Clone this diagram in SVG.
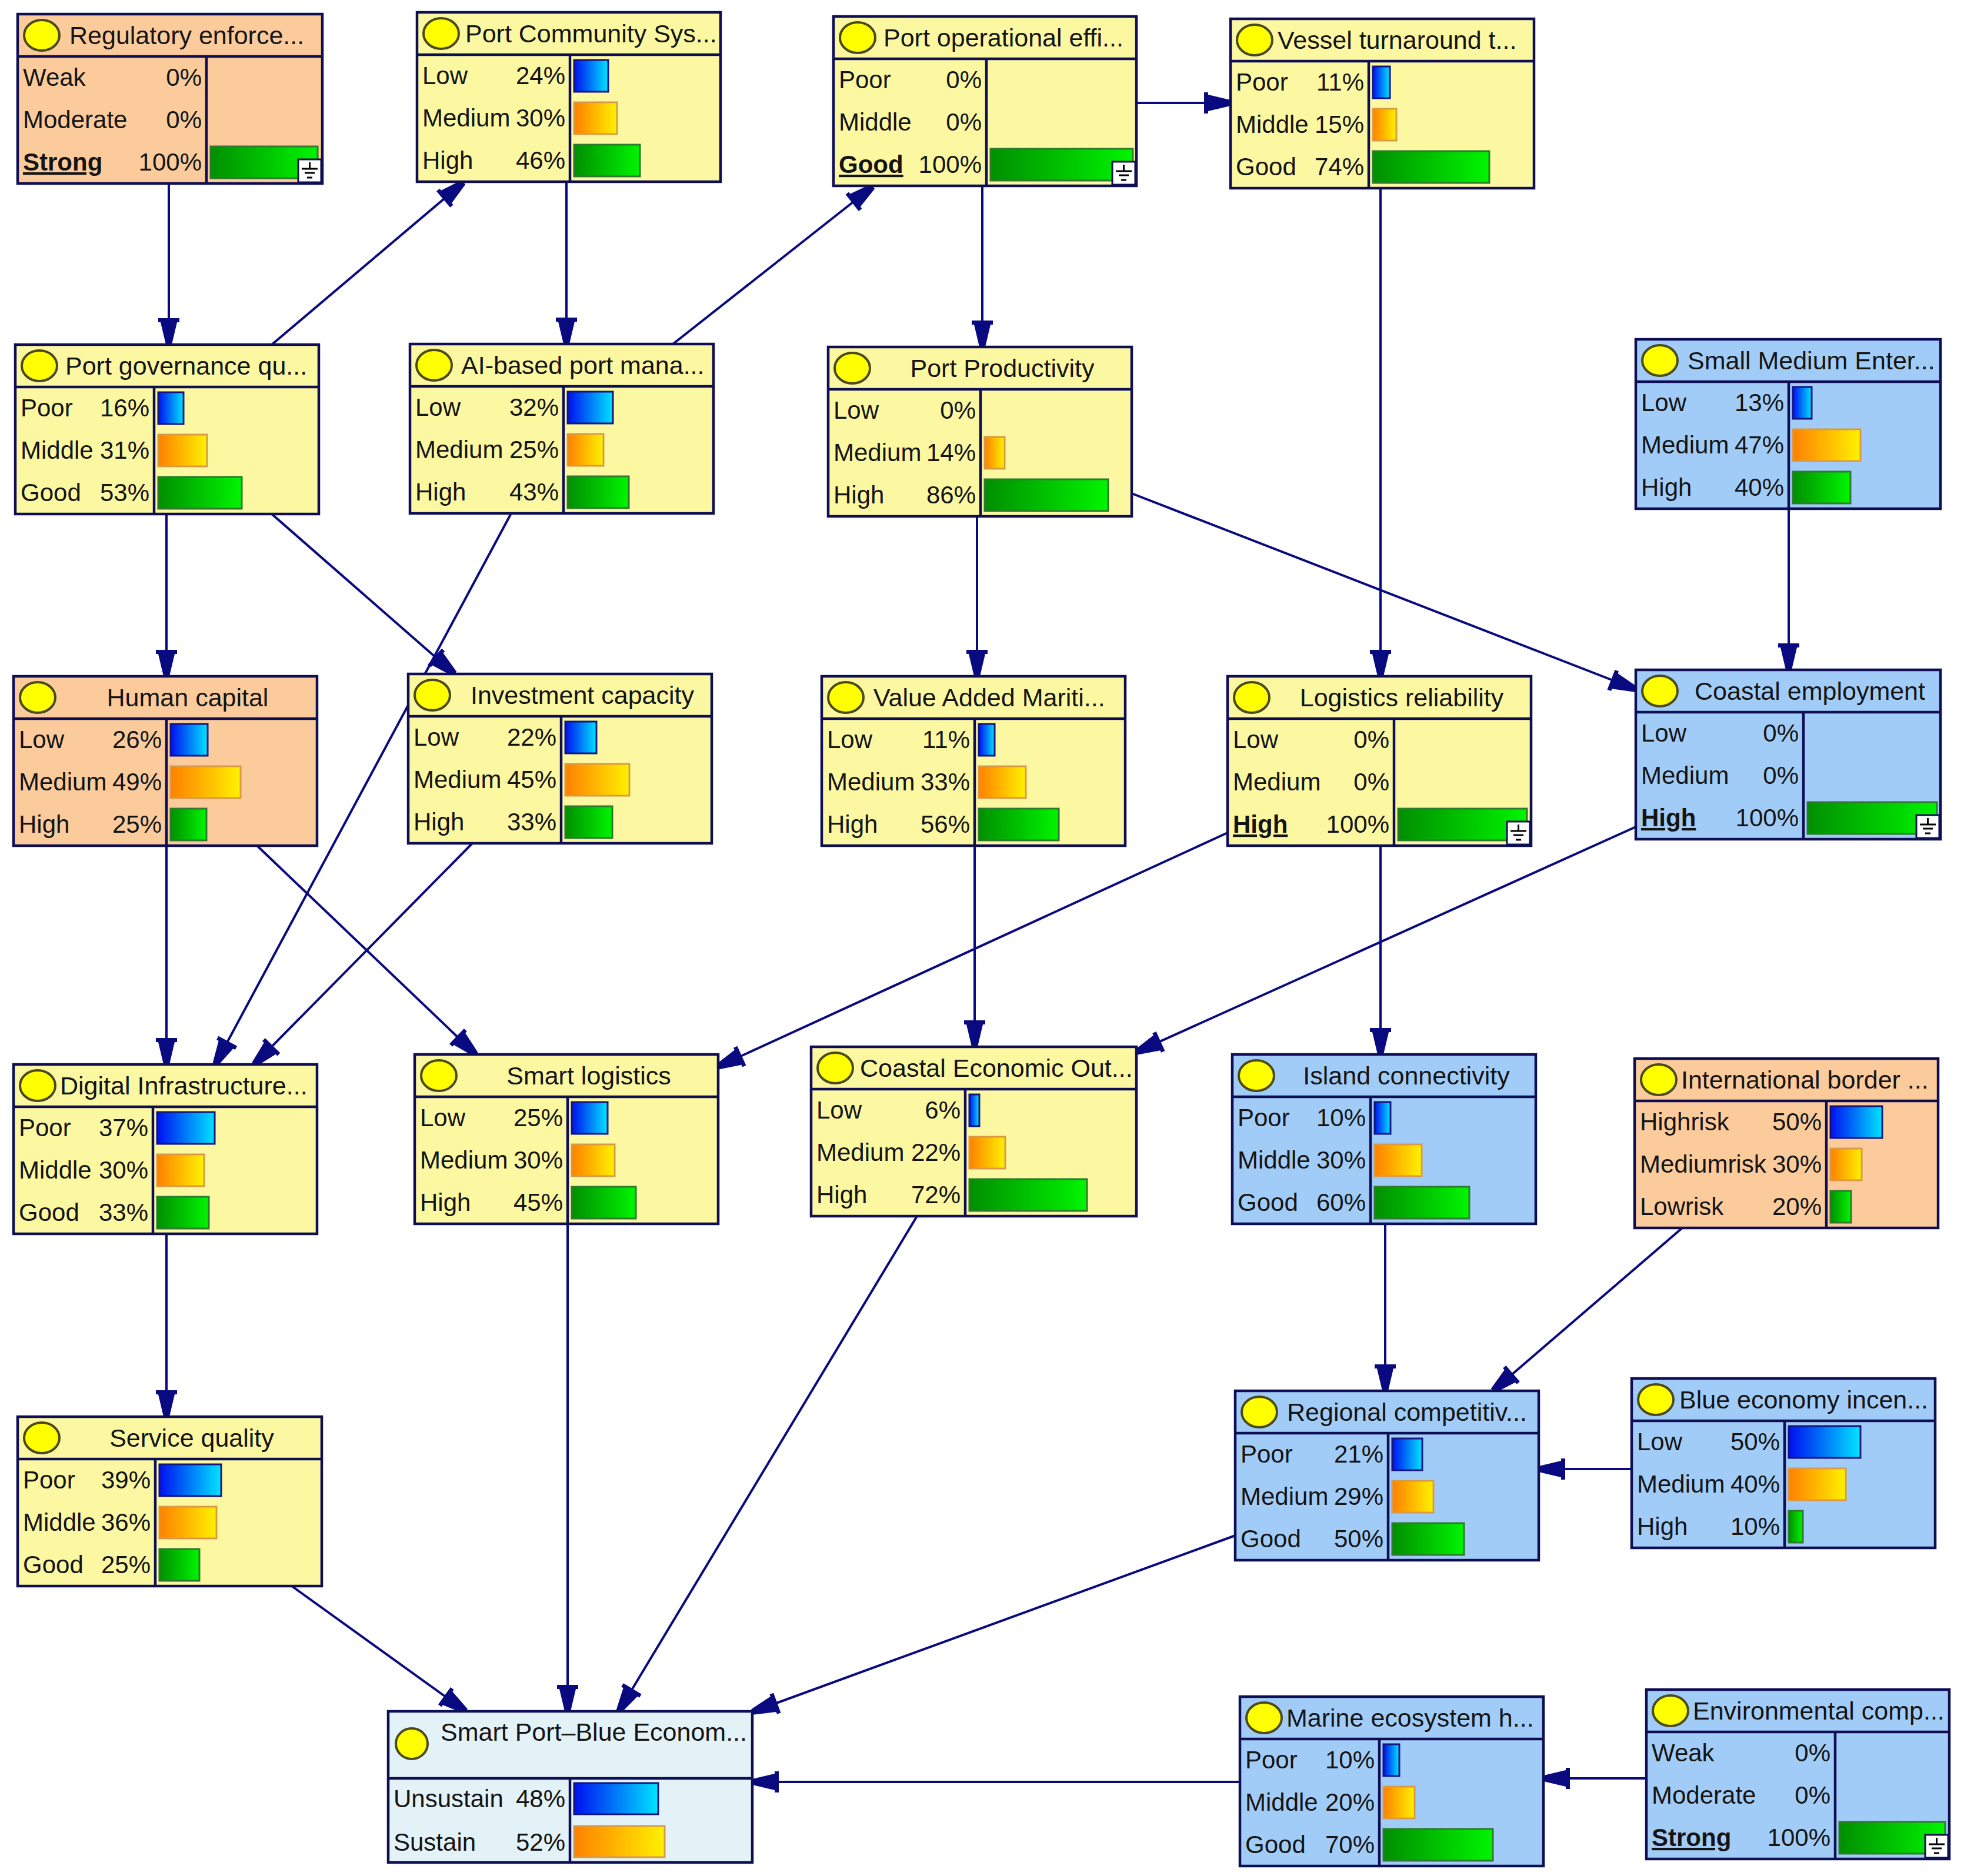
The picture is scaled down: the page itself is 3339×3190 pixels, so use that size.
<svg xmlns="http://www.w3.org/2000/svg" width="3339" height="3190" viewBox="0 0 3339 3190">
<defs>
<style>
.t{font-family:"Liberation Sans",Arial,sans-serif;font-size:42px;fill:#141414}
.h{font-size:43px}
.e{text-anchor:end}
.m{text-anchor:middle}
.u{font-weight:bold;text-decoration:underline}
.fr{stroke:#0E0E55;stroke-width:4.5}
.ln{stroke:#0E0E55;stroke-width:4.5}
.Y{fill:#FCF8A2}.B{fill:#A2CCF8}.O{fill:#FBCB9C}.C{fill:#E3F2F7}
.bb{fill:url(#gb);stroke:#14147E;stroke-width:3}
.bo{fill:url(#go);stroke:#DA9A45;stroke-width:3}
.bg{fill:url(#gg);stroke:#2E7A2E;stroke-width:3}
.cir{fill:#FFFF00;stroke:#4A4A1A;stroke-width:4}
.cn line{stroke:#0A0A80;stroke-width:4;marker-end:url(#ah)}
</style>
<linearGradient id="gb"><stop offset="0" stop-color="#0010F0"/><stop offset="1" stop-color="#00E4FF"/></linearGradient>
<linearGradient id="go"><stop offset="0" stop-color="#FF8000"/><stop offset="1" stop-color="#FFF200"/></linearGradient>
<linearGradient id="gg"><stop offset="0" stop-color="#008F00"/><stop offset="1" stop-color="#00F500"/></linearGradient>
<marker id="ah" markerUnits="userSpaceOnUse" markerWidth="50" markerHeight="42" viewBox="-48 -21 50 42" refX="0" refY="0" orient="auto"><path d="M0,-5 L-38,-14 L-38,-18 L-45,-18 L-45,18 L-38,18 L-38,14 L0,5 Z" fill="#0A0A80"/></marker>
<g id="evi"><rect x="0" y="0" width="39" height="39" fill="#ffffff" stroke="#0E0E55" stroke-width="3"/><g stroke="#000000" stroke-width="3"><line x1="19.5" y1="5" x2="19.5" y2="15"/><line x1="6" y1="16" x2="33" y2="16"/><line x1="11" y1="23" x2="28" y2="23"/><line x1="15" y1="31" x2="24" y2="31"/></g></g>
</defs>
<rect width="3339" height="3190" fill="#ffffff"/>
<g id="connectors" class="cn">
<line x1="287" y1="312" x2="287" y2="586"/>
<line x1="462" y1="586" x2="788" y2="310"/>
<line x1="963" y1="309" x2="963" y2="585"/>
<line x1="1144" y1="585" x2="1484" y2="317"/>
<line x1="1932" y1="175" x2="2092" y2="175"/>
<line x1="1670" y1="316" x2="1670" y2="590"/>
<line x1="283" y1="874" x2="283" y2="1150"/>
<line x1="462" y1="874" x2="773" y2="1146"/>
<line x1="869" y1="873" x2="366" y2="1810"/>
<line x1="1661" y1="878" x2="1661" y2="1150"/>
<line x1="1924" y1="839" x2="2781" y2="1172"/>
<line x1="2347" y1="320" x2="2347" y2="1150"/>
<line x1="3041" y1="865" x2="3041" y2="1139"/>
<line x1="283" y1="1438" x2="283" y2="1810"/>
<line x1="437" y1="1438" x2="809" y2="1793"/>
<line x1="803" y1="1434" x2="432" y2="1810"/>
<line x1="1657" y1="1438" x2="1657" y2="1780"/>
<line x1="2087" y1="1416" x2="1220" y2="1814"/>
<line x1="2347" y1="1438" x2="2347" y2="1793"/>
<line x1="2781" y1="1406" x2="1932" y2="1789"/>
<line x1="283" y1="2098" x2="283" y2="2409"/>
<line x1="965" y1="2081" x2="965" y2="2910"/>
<line x1="1559" y1="2068" x2="1052" y2="2910"/>
<line x1="2355" y1="2081" x2="2355" y2="2365"/>
<line x1="2860" y1="2088" x2="2538" y2="2365"/>
<line x1="2774" y1="2498" x2="2616" y2="2498"/>
<line x1="496" y1="2697" x2="792" y2="2910"/>
<line x1="2100" y1="2611" x2="1279" y2="2911"/>
<line x1="2108" y1="3030" x2="1279" y2="3030"/>
<line x1="2799" y1="3024" x2="2624" y2="3024"/>
</g>

<g id="reg" transform="translate(30,24)">
<rect class="O fr" width="518" height="288"/><line class="ln" x1="0" y1="72" x2="518" y2="72"/><line class="ln" x1="321" y1="72" x2="321" y2="288"/>
<ellipse class="cir" cx="41" cy="36" rx="30" ry="26"/><text class="t h" x="88" y="51">Regulatory enforce...</text>
<text class="t" x="9" y="122">Weak</text><text class="t e" x="313" y="122">0%</text>
<text class="t" x="9" y="194">Moderate</text><text class="t e" x="313" y="194">0%</text>
<text class="t u" x="9" y="266">Strong</text><text class="t e" x="313" y="266">100%</text>
<rect class="bg" x="328" y="225" width="182" height="54"/>
<use href="#evi" x="477" y="247"/>
</g>

<g id="pcs" transform="translate(709,21)">
<rect class="Y fr" width="516" height="288"/><line class="ln" x1="0" y1="72" x2="516" y2="72"/><line class="ln" x1="260" y1="72" x2="260" y2="288"/>
<ellipse class="cir" cx="41" cy="36" rx="30" ry="26"/><text class="t h" x="82" y="51">Port Community Sys...</text>
<text class="t" x="9" y="122">Low</text><text class="t e" x="252" y="122">24%</text>
<text class="t" x="9" y="194">Medium</text><text class="t e" x="252" y="194">30%</text>
<text class="t" x="9" y="266">High</text><text class="t e" x="252" y="266">46%</text>
<rect class="bb" x="267" y="81" width="58" height="54"/>
<rect class="bo" x="267" y="153" width="73" height="54"/>
<rect class="bg" x="267" y="225" width="112" height="54"/>
</g>

<g id="poe" transform="translate(1417,28)">
<rect class="Y fr" width="515" height="288"/><line class="ln" x1="0" y1="72" x2="515" y2="72"/><line class="ln" x1="260" y1="72" x2="260" y2="288"/>
<ellipse class="cir" cx="41" cy="36" rx="30" ry="26"/><text class="t h" x="85" y="51">Port operational effi...</text>
<text class="t" x="9" y="122">Poor</text><text class="t e" x="252" y="122">0%</text>
<text class="t" x="9" y="194">Middle</text><text class="t e" x="252" y="194">0%</text>
<text class="t u" x="9" y="266">Good</text><text class="t e" x="252" y="266">100%</text>
<rect class="bg" x="267" y="225" width="242" height="54"/>
<use href="#evi" x="474" y="247"/>
</g>

<g id="vtt" transform="translate(2092,32)">
<rect class="Y fr" width="516" height="288"/><line class="ln" x1="0" y1="72" x2="516" y2="72"/><line class="ln" x1="235" y1="72" x2="235" y2="288"/>
<ellipse class="cir" cx="41" cy="36" rx="30" ry="26"/><text class="t h" x="80" y="51">Vessel turnaround t...</text>
<text class="t" x="9" y="122">Poor</text><text class="t e" x="227" y="122">11%</text>
<text class="t" x="9" y="194">Middle</text><text class="t e" x="227" y="194">15%</text>
<text class="t" x="9" y="266">Good</text><text class="t e" x="227" y="266">74%</text>
<rect class="bb" x="242" y="81" width="29" height="54"/>
<rect class="bo" x="242" y="153" width="40" height="54"/>
<rect class="bg" x="242" y="225" width="198" height="54"/>
</g>

<g id="pgq" transform="translate(26,586)">
<rect class="Y fr" width="516" height="288"/><line class="ln" x1="0" y1="72" x2="516" y2="72"/><line class="ln" x1="236" y1="72" x2="236" y2="288"/>
<ellipse class="cir" cx="41" cy="36" rx="30" ry="26"/><text class="t h" x="85" y="51">Port governance qu...</text>
<text class="t" x="9" y="122">Poor</text><text class="t e" x="228" y="122">16%</text>
<text class="t" x="9" y="194">Middle</text><text class="t e" x="228" y="194">31%</text>
<text class="t" x="9" y="266">Good</text><text class="t e" x="228" y="266">53%</text>
<rect class="bb" x="243" y="81" width="43" height="54"/>
<rect class="bo" x="243" y="153" width="83" height="54"/>
<rect class="bg" x="243" y="225" width="142" height="54"/>
</g>

<g id="ai" transform="translate(697,585)">
<rect class="Y fr" width="516" height="288"/><line class="ln" x1="0" y1="72" x2="516" y2="72"/><line class="ln" x1="261" y1="72" x2="261" y2="288"/>
<ellipse class="cir" cx="41" cy="36" rx="30" ry="26"/><text class="t h" x="87" y="51">AI-based port mana...</text>
<text class="t" x="9" y="122">Low</text><text class="t e" x="253" y="122">32%</text>
<text class="t" x="9" y="194">Medium</text><text class="t e" x="253" y="194">25%</text>
<text class="t" x="9" y="266">High</text><text class="t e" x="253" y="266">43%</text>
<rect class="bb" x="268" y="81" width="77" height="54"/>
<rect class="bo" x="268" y="153" width="61" height="54"/>
<rect class="bg" x="268" y="225" width="104" height="54"/>
</g>

<g id="pp" transform="translate(1408,590)">
<rect class="Y fr" width="516" height="288"/><line class="ln" x1="0" y1="72" x2="516" y2="72"/><line class="ln" x1="259" y1="72" x2="259" y2="288"/>
<ellipse class="cir" cx="41" cy="36" rx="30" ry="26"/><text class="t h m" x="296" y="51">Port Productivity</text>
<text class="t" x="9" y="122">Low</text><text class="t e" x="251" y="122">0%</text>
<text class="t" x="9" y="194">Medium</text><text class="t e" x="251" y="194">14%</text>
<text class="t" x="9" y="266">High</text><text class="t e" x="251" y="266">86%</text>
<rect class="bo" x="266" y="153" width="34" height="54"/>
<rect class="bg" x="266" y="225" width="210" height="54"/>
</g>

<g id="sme" transform="translate(2781,577)">
<rect class="B fr" width="518" height="288"/><line class="ln" x1="0" y1="72" x2="518" y2="72"/><line class="ln" x1="260" y1="72" x2="260" y2="288"/>
<ellipse class="cir" cx="41" cy="36" rx="30" ry="26"/><text class="t h" x="88" y="51">Small Medium Enter...</text>
<text class="t" x="9" y="122">Low</text><text class="t e" x="252" y="122">13%</text>
<text class="t" x="9" y="194">Medium</text><text class="t e" x="252" y="194">47%</text>
<text class="t" x="9" y="266">High</text><text class="t e" x="252" y="266">40%</text>
<rect class="bb" x="267" y="81" width="32" height="54"/>
<rect class="bo" x="267" y="153" width="115" height="54"/>
<rect class="bg" x="267" y="225" width="98" height="54"/>
</g>

<g id="hc" transform="translate(23,1150)">
<rect class="O fr" width="516" height="288"/><line class="ln" x1="0" y1="72" x2="516" y2="72"/><line class="ln" x1="260" y1="72" x2="260" y2="288"/>
<ellipse class="cir" cx="41" cy="36" rx="30" ry="26"/><text class="t h m" x="296" y="51">Human capital</text>
<text class="t" x="9" y="122">Low</text><text class="t e" x="252" y="122">26%</text>
<text class="t" x="9" y="194">Medium</text><text class="t e" x="252" y="194">49%</text>
<text class="t" x="9" y="266">High</text><text class="t e" x="252" y="266">25%</text>
<rect class="bb" x="267" y="81" width="63" height="54"/>
<rect class="bo" x="267" y="153" width="119" height="54"/>
<rect class="bg" x="267" y="225" width="61" height="54"/>
</g>

<g id="ic" transform="translate(694,1146)">
<rect class="Y fr" width="516" height="288"/><line class="ln" x1="0" y1="72" x2="516" y2="72"/><line class="ln" x1="260" y1="72" x2="260" y2="288"/>
<ellipse class="cir" cx="41" cy="36" rx="30" ry="26"/><text class="t h m" x="296" y="51">Investment capacity</text>
<text class="t" x="9" y="122">Low</text><text class="t e" x="252" y="122">22%</text>
<text class="t" x="9" y="194">Medium</text><text class="t e" x="252" y="194">45%</text>
<text class="t" x="9" y="266">High</text><text class="t e" x="252" y="266">33%</text>
<rect class="bb" x="267" y="81" width="53" height="54"/>
<rect class="bo" x="267" y="153" width="109" height="54"/>
<rect class="bg" x="267" y="225" width="80" height="54"/>
</g>

<g id="va" transform="translate(1397,1150)">
<rect class="Y fr" width="516" height="288"/><line class="ln" x1="0" y1="72" x2="516" y2="72"/><line class="ln" x1="260" y1="72" x2="260" y2="288"/>
<ellipse class="cir" cx="41" cy="36" rx="30" ry="26"/><text class="t h" x="88" y="51">Value Added Mariti...</text>
<text class="t" x="9" y="122">Low</text><text class="t e" x="252" y="122">11%</text>
<text class="t" x="9" y="194">Medium</text><text class="t e" x="252" y="194">33%</text>
<text class="t" x="9" y="266">High</text><text class="t e" x="252" y="266">56%</text>
<rect class="bb" x="267" y="81" width="27" height="54"/>
<rect class="bo" x="267" y="153" width="80" height="54"/>
<rect class="bg" x="267" y="225" width="136" height="54"/>
</g>

<g id="lr" transform="translate(2087,1150)">
<rect class="Y fr" width="516" height="288"/><line class="ln" x1="0" y1="72" x2="516" y2="72"/><line class="ln" x1="283" y1="72" x2="283" y2="288"/>
<ellipse class="cir" cx="41" cy="36" rx="30" ry="26"/><text class="t h m" x="296" y="51">Logistics reliability</text>
<text class="t" x="9" y="122">Low</text><text class="t e" x="275" y="122">0%</text>
<text class="t" x="9" y="194">Medium</text><text class="t e" x="275" y="194">0%</text>
<text class="t u" x="9" y="266">High</text><text class="t e" x="275" y="266">100%</text>
<rect class="bg" x="290" y="225" width="219" height="54"/>
<use href="#evi" x="475" y="247"/>
</g>

<g id="ce" transform="translate(2781,1139)">
<rect class="B fr" width="518" height="288"/><line class="ln" x1="0" y1="72" x2="518" y2="72"/><line class="ln" x1="285" y1="72" x2="285" y2="288"/>
<ellipse class="cir" cx="41" cy="36" rx="30" ry="26"/><text class="t h m" x="296" y="51">Coastal employment</text>
<text class="t" x="9" y="122">Low</text><text class="t e" x="277" y="122">0%</text>
<text class="t" x="9" y="194">Medium</text><text class="t e" x="277" y="194">0%</text>
<text class="t u" x="9" y="266">High</text><text class="t e" x="277" y="266">100%</text>
<rect class="bg" x="292" y="225" width="220" height="54"/>
<use href="#evi" x="477" y="247"/>
</g>

<g id="di" transform="translate(23,1810)">
<rect class="Y fr" width="516" height="288"/><line class="ln" x1="0" y1="72" x2="516" y2="72"/><line class="ln" x1="237" y1="72" x2="237" y2="288"/>
<ellipse class="cir" cx="41" cy="36" rx="30" ry="26"/><text class="t h" x="79" y="51">Digital Infrastructure...</text>
<text class="t" x="9" y="122">Poor</text><text class="t e" x="229" y="122">37%</text>
<text class="t" x="9" y="194">Middle</text><text class="t e" x="229" y="194">30%</text>
<text class="t" x="9" y="266">Good</text><text class="t e" x="229" y="266">33%</text>
<rect class="bb" x="244" y="81" width="98" height="54"/>
<rect class="bo" x="244" y="153" width="80" height="54"/>
<rect class="bg" x="244" y="225" width="88" height="54"/>
</g>

<g id="sl" transform="translate(705,1793)">
<rect class="Y fr" width="516" height="288"/><line class="ln" x1="0" y1="72" x2="516" y2="72"/><line class="ln" x1="260" y1="72" x2="260" y2="288"/>
<ellipse class="cir" cx="41" cy="36" rx="30" ry="26"/><text class="t h m" x="296" y="51">Smart logistics</text>
<text class="t" x="9" y="122">Low</text><text class="t e" x="252" y="122">25%</text>
<text class="t" x="9" y="194">Medium</text><text class="t e" x="252" y="194">30%</text>
<text class="t" x="9" y="266">High</text><text class="t e" x="252" y="266">45%</text>
<rect class="bb" x="267" y="81" width="61" height="54"/>
<rect class="bo" x="267" y="153" width="73" height="54"/>
<rect class="bg" x="267" y="225" width="109" height="54"/>
</g>

<g id="ceo" transform="translate(1379,1780)">
<rect class="Y fr" width="553" height="288"/><line class="ln" x1="0" y1="72" x2="553" y2="72"/><line class="ln" x1="262" y1="72" x2="262" y2="288"/>
<ellipse class="cir" cx="41" cy="36" rx="30" ry="26"/><text class="t h" x="83" y="51">Coastal Economic Out...</text>
<text class="t" x="9" y="122">Low</text><text class="t e" x="254" y="122">6%</text>
<text class="t" x="9" y="194">Medium</text><text class="t e" x="254" y="194">22%</text>
<text class="t" x="9" y="266">High</text><text class="t e" x="254" y="266">72%</text>
<rect class="bb" x="269" y="81" width="17" height="54"/>
<rect class="bo" x="269" y="153" width="61" height="54"/>
<rect class="bg" x="269" y="225" width="200" height="54"/>
</g>

<g id="isc" transform="translate(2095,1793)">
<rect class="B fr" width="516" height="288"/><line class="ln" x1="0" y1="72" x2="516" y2="72"/><line class="ln" x1="235" y1="72" x2="235" y2="288"/>
<ellipse class="cir" cx="41" cy="36" rx="30" ry="26"/><text class="t h m" x="296" y="51">Island connectivity</text>
<text class="t" x="9" y="122">Poor</text><text class="t e" x="227" y="122">10%</text>
<text class="t" x="9" y="194">Middle</text><text class="t e" x="227" y="194">30%</text>
<text class="t" x="9" y="266">Good</text><text class="t e" x="227" y="266">60%</text>
<rect class="bb" x="242" y="81" width="27" height="54"/>
<rect class="bo" x="242" y="153" width="80" height="54"/>
<rect class="bg" x="242" y="225" width="161" height="54"/>
</g>

<g id="ib" transform="translate(2779,1800)">
<rect class="O fr" width="516" height="288"/><line class="ln" x1="0" y1="72" x2="516" y2="72"/><line class="ln" x1="326" y1="72" x2="326" y2="288"/>
<ellipse class="cir" cx="41" cy="36" rx="30" ry="26"/><text class="t h" x="79" y="51">International border ...</text>
<text class="t" x="9" y="122">Highrisk</text><text class="t e" x="318" y="122">50%</text>
<text class="t" x="9" y="194">Mediumrisk</text><text class="t e" x="318" y="194">30%</text>
<text class="t" x="9" y="266">Lowrisk</text><text class="t e" x="318" y="266">20%</text>
<rect class="bb" x="333" y="81" width="88" height="54"/>
<rect class="bo" x="333" y="153" width="53" height="54"/>
<rect class="bg" x="333" y="225" width="35" height="54"/>
</g>

<g id="sq" transform="translate(30,2409)">
<rect class="Y fr" width="517" height="288"/><line class="ln" x1="0" y1="72" x2="517" y2="72"/><line class="ln" x1="234" y1="72" x2="234" y2="288"/>
<ellipse class="cir" cx="41" cy="36" rx="30" ry="26"/><text class="t h m" x="296" y="51">Service quality</text>
<text class="t" x="9" y="122">Poor</text><text class="t e" x="226" y="122">39%</text>
<text class="t" x="9" y="194">Middle</text><text class="t e" x="226" y="194">36%</text>
<text class="t" x="9" y="266">Good</text><text class="t e" x="226" y="266">25%</text>
<rect class="bb" x="241" y="81" width="105" height="54"/>
<rect class="bo" x="241" y="153" width="97" height="54"/>
<rect class="bg" x="241" y="225" width="68" height="54"/>
</g>

<g id="rc" transform="translate(2100,2365)">
<rect class="B fr" width="516" height="288"/><line class="ln" x1="0" y1="72" x2="516" y2="72"/><line class="ln" x1="260" y1="72" x2="260" y2="288"/>
<ellipse class="cir" cx="41" cy="36" rx="30" ry="26"/><text class="t h" x="88" y="51">Regional competitiv...</text>
<text class="t" x="9" y="122">Poor</text><text class="t e" x="252" y="122">21%</text>
<text class="t" x="9" y="194">Medium</text><text class="t e" x="252" y="194">29%</text>
<text class="t" x="9" y="266">Good</text><text class="t e" x="252" y="266">50%</text>
<rect class="bb" x="267" y="81" width="51" height="54"/>
<rect class="bo" x="267" y="153" width="70" height="54"/>
<rect class="bg" x="267" y="225" width="122" height="54"/>
</g>

<g id="be" transform="translate(2774,2344)">
<rect class="B fr" width="516" height="288"/><line class="ln" x1="0" y1="72" x2="516" y2="72"/><line class="ln" x1="260" y1="72" x2="260" y2="288"/>
<ellipse class="cir" cx="41" cy="36" rx="30" ry="26"/><text class="t h" x="81" y="51">Blue economy incen...</text>
<text class="t" x="9" y="122">Low</text><text class="t e" x="252" y="122">50%</text>
<text class="t" x="9" y="194">Medium</text><text class="t e" x="252" y="194">40%</text>
<text class="t" x="9" y="266">High</text><text class="t e" x="252" y="266">10%</text>
<rect class="bb" x="267" y="81" width="122" height="54"/>
<rect class="bo" x="267" y="153" width="97" height="54"/>
<rect class="bg" x="267" y="225" width="24" height="54"/>
</g>

<g id="sp" transform="translate(660,2910)">
<rect class="C fr" width="619" height="257"/><line class="ln" x1="0" y1="114" x2="619" y2="114"/><line class="ln" x1="309" y1="114" x2="309" y2="257"/>
<ellipse class="cir" cx="40" cy="55" rx="27" ry="26"/><text class="t h" x="89" y="50">Smart Port–Blue Econom...</text>
<text class="t" x="9" y="163">Unsustain</text><text class="t e" x="301" y="163">48%</text>
<text class="t" x="9" y="237">Sustain</text><text class="t e" x="301" y="237">52%</text>
<rect class="bb" x="316" y="122" width="143" height="53"/>
<rect class="bo" x="316" y="195" width="154" height="53"/>
</g>

<g id="me" transform="translate(2108,2885)">
<rect class="B fr" width="516" height="288"/><line class="ln" x1="0" y1="72" x2="516" y2="72"/><line class="ln" x1="237" y1="72" x2="237" y2="288"/>
<ellipse class="cir" cx="41" cy="36" rx="30" ry="26"/><text class="t h" x="79" y="51">Marine ecosystem h...</text>
<text class="t" x="9" y="122">Poor</text><text class="t e" x="229" y="122">10%</text>
<text class="t" x="9" y="194">Middle</text><text class="t e" x="229" y="194">20%</text>
<text class="t" x="9" y="266">Good</text><text class="t e" x="229" y="266">70%</text>
<rect class="bb" x="244" y="81" width="27" height="54"/>
<rect class="bo" x="244" y="153" width="53" height="54"/>
<rect class="bg" x="244" y="225" width="186" height="54"/>
</g>

<g id="env" transform="translate(2799,2873)">
<rect class="B fr" width="515" height="288"/><line class="ln" x1="0" y1="72" x2="515" y2="72"/><line class="ln" x1="321" y1="72" x2="321" y2="288"/>
<ellipse class="cir" cx="41" cy="36" rx="30" ry="26"/><text class="t h" x="79" y="51">Environmental comp...</text>
<text class="t" x="9" y="122">Weak</text><text class="t e" x="313" y="122">0%</text>
<text class="t" x="9" y="194">Moderate</text><text class="t e" x="313" y="194">0%</text>
<text class="t u" x="9" y="266">Strong</text><text class="t e" x="313" y="266">100%</text>
<rect class="bg" x="328" y="225" width="180" height="54"/>
<use href="#evi" x="474" y="247"/>
</g>
</svg>
